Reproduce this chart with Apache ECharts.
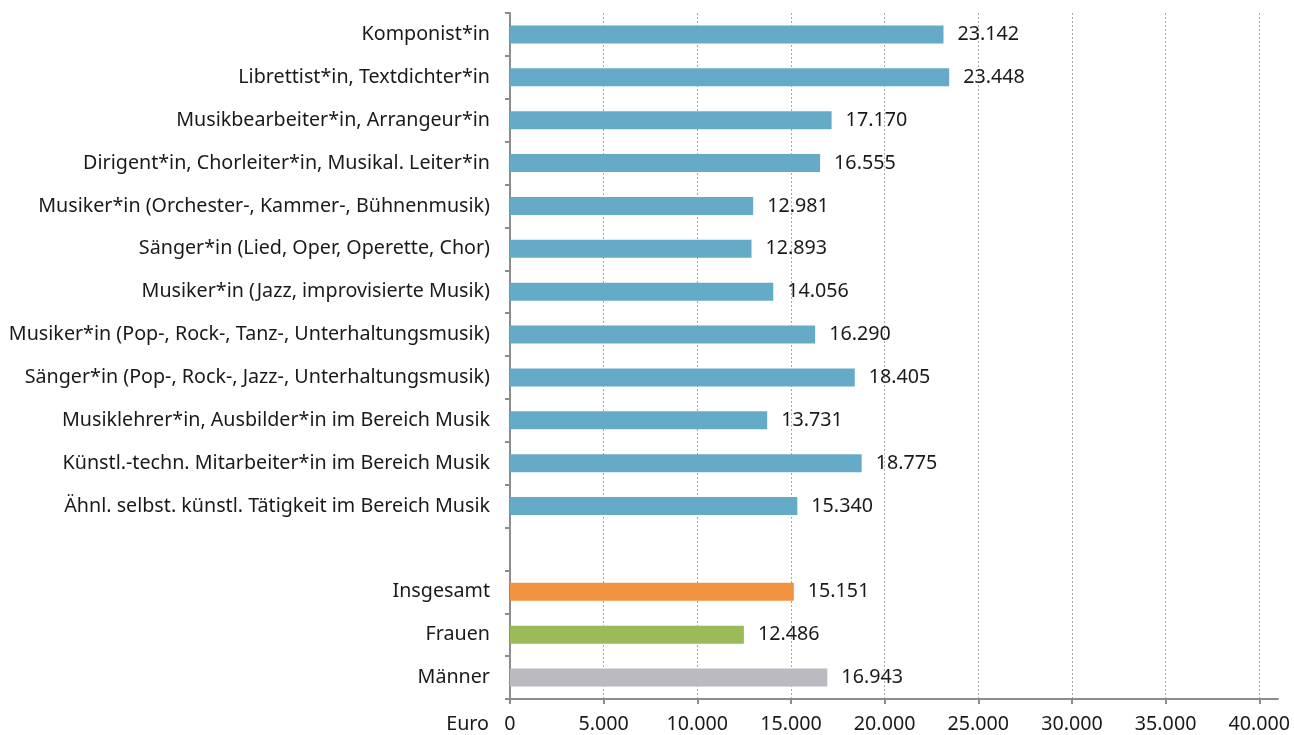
<!DOCTYPE html>
<html>
<head>
<meta charset="utf-8">
<script src="https://cdn.jsdelivr.net/npm/echarts@6/dist/echarts.min.js"></script>
<style>
  html, body { margin: 0; padding: 0; background: #fff; }
  #chart { width: 1294px; height: 735px; }
</style>
</head>
<body>
<div id="chart"></div>
<script>
// Durchschnittliches Jahreseinkommen nach Tätigkeitsbereich (Euro)
const categories = [
  'Komponist*in',
  'Librettist*in, Textdichter*in',
  'Musikbearbeiter*in, Arrangeur*in',
  'Dirigent*in, Chorleiter*in, Musikal. Leiter*in',
  'Musiker*in (Orchester-, Kammer-, Bühnenmusik)',
  'Sänger*in (Lied, Oper, Operette, Chor)',
  'Musiker*in (Jazz, improvisierte Musik)',
  'Musiker*in (Pop-, Rock-, Tanz-, Unterhaltungsmusik)',
  'Sänger*in (Pop-, Rock-, Jazz-, Unterhaltungsmusik)',
  'Musiklehrer*in, Ausbilder*in im Bereich Musik',
  'Künstl.-techn. Mitarbeiter*in im Bereich Musik',
  'Ähnl. selbst. künstl. Tätigkeit im Bereich Musik',
  '',
  'Insgesamt',
  'Frauen',
  'Männer'
];
const values = [
  23142, 23448, 17170, 16555, 12981, 12893, 14056, 16290,
  18405, 13731, 18775, 15340, null, 15151, 12486, 16943
];
// colour group of each bar: t = Tätigkeit, i = insgesamt, f = Frauen, m = Männer
const groups = ['t','t','t','t','t','t','t','t','t','t','t','t','', 'i','f','m'];
const groupColors = { t: '#65abc7', i: '#f0923e', f: '#9bbb59', m: '#bcbac1' };
const xTicks = [0, 5000, 10000, 15000, 20000, 25000, 30000, 35000, 40000];

function deNumber(v) {
  return String(Math.round(v)).replace(/\B(?=(\d{3})+(?!\d))/g, '.');
}

const FONT = 'Noto Sans';
const FS = 19.7;
const chart = echarts.init(document.getElementById('chart'), null, { renderer: 'canvas' });

chart.setOption({
  animation: false,
  backgroundColor: '#ffffff',
  grid: { left: 510, right: 16, top: 13, bottom: 36, containLabel: false },
  xAxis: {
    type: 'value',
    min: 0,
    max: 41000,
    interval: 5000,
    name: 'Euro',
    nameLocation: 'start',
    nameGap: 21,
    nameTextStyle: {
      fontFamily: FONT, fontSize: FS, color: '#1a1a1a',
      verticalAlign: 'top', padding: [15, 0, 0, 0]
    },
    axisLine: { show: true, lineStyle: { color: '#8c8c8c', width: 2 } },
    axisTick: { show: true, length: 5, customValues: xTicks, lineStyle: { color: '#8c8c8c', width: 2 } },
    axisLabel: {
      customValues: xTicks,
      margin: 15,
      fontFamily: FONT, fontSize: FS, color: '#1a1a1a',
      formatter: v => deNumber(v)
    },
    splitLine: { show: true, lineStyle: { color: '#a6a6a6', type: [2, 2], width: 1 } }
  },
  yAxis: {
    type: 'category',
    inverse: true,
    data: categories,
    axisLine: { show: true, lineStyle: { color: '#8c8c8c', width: 2 } },
    axisTick: { show: true, length: 5, lineStyle: { color: '#8c8c8c', width: 2 } },
    axisLabel: { margin: 20, fontFamily: FONT, fontSize: FS, color: '#1a1a1a' },
    splitLine: { show: false }
  },
  series: [{
    type: 'bar',
    barWidth: 18,
    data: values.map((v, i) => ({
      value: v,
      itemStyle: { color: groupColors[groups[i]] || '#65abc7' }
    })),
    label: {
      show: true,
      position: 'right',
      distance: 14,
      fontFamily: FONT, fontSize: FS, color: '#1a1a1a',
      formatter: p => (p.value == null ? '' : deNumber(p.value))
    }
  }]
});
</script>
</body>
</html>
